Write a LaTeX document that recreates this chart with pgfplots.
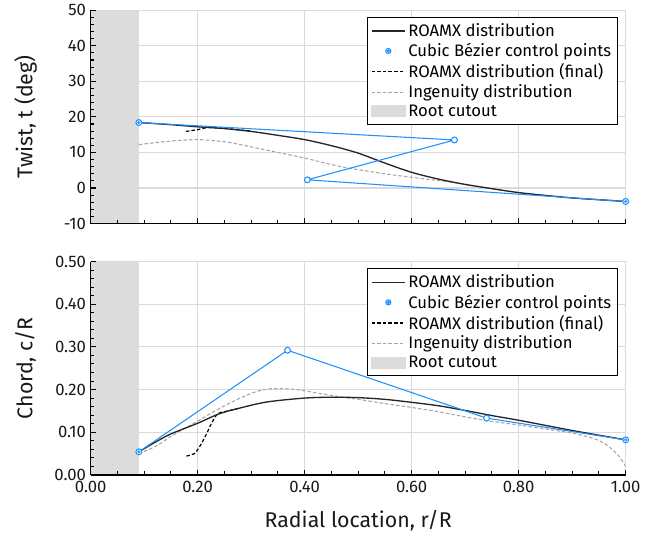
\documentclass[border=0pt]{standalone}
\usepackage{fontspec}
\setmainfont{Fira Sans}
\usepackage{pgfplots}
\pgfplotsset{compat=1.18}
\definecolor{cpblue}{RGB}{30,144,255}
\definecolor{cutgray}{RGB}{220,220,220}
\definecolor{gridgray}{RGB}{218,218,218}
\definecolor{ingray}{RGB}{165,165,165}
\pgfplotsset{
 myaxis/.style={
  scale only axis, width=401.25pt, height=160pt,
  xmin=0, xmax=1,
  set layers, clip mode=individual,
  axis x line*=bottom, axis y line*=left,
  axis line style={black, line width=1.1pt},
  xtick align=inside, ytick align=inside,
  major tick length=3.6pt, minor tick length=2.6pt,
  every major tick/.append style={black, line width=0.8pt},
  every minor tick/.append style={black, line width=0.7pt},
  grid=major, major grid style={gridgray, line width=0.9pt},
  xtick={0,0.2,0.4,0.6,0.8,1},
  minor xtick={0.05,0.1,0.15,0.25,0.3,0.35,0.45,0.5,0.55,0.65,0.7,0.75,0.85,0.9,0.95},
  tick label style={font=\fontsize{12.5}{14}\selectfont, black!90},
  xticklabel style={yshift=-1.5pt},
  every axis y label/.style={at={(axis description cs:-0.1215,0.5)}, rotate=90, anchor=center,
    font=\fontsize{16}{19}\selectfont, black!90},
  legend style={at={(1,1)}, anchor=north east, xshift=-6pt, yshift=-5pt,
    draw=black, line width=0.8pt, font=\fontsize{12.5}{14.5}\selectfont,
    legend cell align=left, row sep=-0.3pt, inner sep=2.5pt},
 }
}
\newcommand{\mylegend}{%
  \addlegendimage{legend image code/.code={\draw[black!85,line width=1pt] (0cm,0cm) -- (0.88cm,0cm);}}
  \addlegendentry{ROAMX distribution}
  \addlegendimage{legend image code/.code={\draw[cpblue,fill=white,line width=0.8pt] (0.44cm,0cm) circle (1.9pt); \fill[cpblue] (0.44cm,0cm) circle (0.8pt);}}
  \addlegendentry{Cubic Bézier control points}
  \addlegendimage{legend image code/.code={\draw[black,line width=0.8pt,dash pattern=on 2.6pt off 1.6pt] (0cm,0cm) -- (0.88cm,0cm);}}
  \addlegendentry{ROAMX distribution (final)}
  \addlegendimage{legend image code/.code={\draw[ingray,line width=0.8pt,dash pattern=on 2.6pt off 1.6pt] (0cm,0cm) -- (0.88cm,0cm);}}
  \addlegendentry{Ingenuity distribution}
  \addlegendimage{legend image code/.code={\fill[cutgray] (0cm,-4.1pt) rectangle (0.88cm,4.1pt);}}
  \addlegendentry{Root cutout}
}
\begin{document}
\begin{tikzpicture}
% ---------------- Twist ----------------
\begin{axis}[myaxis, at={(0,188.5pt)}, anchor=south west,
  ymin=-10, ymax=50, ytick={-10,0,10,20,30,40,50},
  minor ytick={-8,-6,-4,-2,2,4,6,8,12,14,16,18,22,24,26,28,32,34,36,38,42,44,46,48},
  yticklabels={-10,0,10,20,30,40,50}, xticklabels={,,,,,},
  ylabel={Twist, t (deg)}]
\mylegend
\addplot[draw=none, fill=cutgray, on layer=axis background, forget plot]
  coordinates {(0,-10) (0.09,-10) (0.09,50) (0,50) (0,-10)};
% axis ticks (inside)
\pgfplotsinvokeforeach{0.05,0.1,0.15,0.25,0.3,0.35,0.45,0.5,0.55,0.65,0.7,0.75,0.85,0.9,0.95}{
  \draw[black, line width=0.75pt] (axis cs:#1,-10) -- ++(0pt,2.8pt);}
\pgfplotsinvokeforeach{0.2,0.4,0.6,0.8}{
  \draw[black, line width=0.8pt] (axis cs:#1,-10) -- ++(0pt,3.8pt);}
\pgfplotsinvokeforeach{-8,-6,-4,-2,2,4,6,8,12,14,16,18,22,24,26,28,32,34,36,38,42,44,46,48}{
  \draw[black, line width=0.75pt] (axis cs:0,#1) -- ++(2.8pt,0pt);}
\pgfplotsinvokeforeach{0,10,20,30,40,50}{
  \draw[black, line width=0.8pt] (axis cs:0,#1) -- ++(3.8pt,0pt);}
% Ingenuity
\addplot[ingray, line width=0.8pt, dash pattern=on 2.6pt off 1.6pt, smooth, forget plot] coordinates {
(0.09,12.2) (0.15,13.2) (0.20,13.6) (0.25,13.0) (0.28,12.2) (0.34,10.3) (0.40,8.4)
(0.465,6.1) (0.54,4.2) (0.60,3.0) (0.68,1.5) (0.75,-0.2) (0.80,-1.3) (0.85,-2.1)
(0.90,-2.8) (0.95,-3.3) (1.00,-3.8)};
% ROAMX final
\addplot[black, line width=0.9pt, dash pattern=on 2.6pt off 1.6pt, forget plot] coordinates {
(0.178,15.9) (0.20,16.4) (0.217,17.0) (0.23,17.0) (0.25,16.8) (0.30,16.0)};
% ROAMX
\addplot[black!85, line width=1pt, smooth, forget plot] coordinates {
(0.09,18.4) (0.15,17.8) (0.20,17.2) (0.25,16.7) (0.30,15.9) (0.35,14.8) (0.40,13.6)
(0.45,11.9) (0.50,9.8) (0.55,7.0) (0.60,4.4) (0.65,2.5) (0.70,1.0) (0.75,-0.2)
(0.80,-1.3) (0.85,-2.1) (0.90,-2.8) (0.95,-3.3) (1.00,-3.8)};
% control points
\addplot[cpblue, line width=0.8pt, mark=*, mark size=2.2pt, mark options={fill=white, line width=0.8pt}, forget plot]
  coordinates {(0.09,18.4) (0.68,13.5) (0.405,2.3) (1.0,-3.8)};
\addplot[cpblue, only marks, mark=*, mark size=0.9pt, forget plot]
  coordinates {(0.09,18.4) (1.0,-3.8)};
\end{axis}
% ---------------- Chord ----------------
\begin{axis}[myaxis, at={(0,0)}, anchor=south west,
  ymin=0, ymax=0.5, ytick={0,0.1,0.2,0.3,0.4,0.5},
  minor ytick={0.02,0.04,0.06,0.08,0.12,0.14,0.16,0.18,0.22,0.24,0.26,0.28,0.32,0.34,0.36,0.38,0.42,0.44,0.46,0.48},
  yticklabels={0.00,0.10,0.20,0.30,0.40,0.50},
  xticklabels={0.00,0.20,0.40,0.60,0.80,1.00},
  ylabel={Chord, c/R},
  xlabel={Radial location, r/R},
  every axis x label/.style={at={(axis description cs:0.5,-0.248)}, anchor=base,
    font=\fontsize{16}{19}\selectfont, black!90}]
\mylegend
\addplot[draw=none, fill=cutgray, on layer=axis background, forget plot]
  coordinates {(0,0) (0.09,0) (0.09,0.5) (0,0.5) (0,0)};
% axis ticks (inside)
\pgfplotsinvokeforeach{0.05,0.1,0.15,0.25,0.3,0.35,0.45,0.5,0.55,0.65,0.7,0.75,0.85,0.9,0.95}{
  \draw[black, line width=0.75pt] (axis cs:#1,0) -- ++(0pt,2.8pt);}
\pgfplotsinvokeforeach{0.2,0.4,0.6,0.8}{
  \draw[black, line width=0.8pt] (axis cs:#1,0) -- ++(0pt,3.8pt);}
\pgfplotsinvokeforeach{0.02,0.04,0.06,0.08,0.12,0.14,0.16,0.18,0.22,0.24,0.26,0.28,0.32,0.34,0.36,0.38,0.42,0.44,0.46,0.48}{
  \draw[black, line width=0.75pt] (axis cs:0,#1) -- ++(2.8pt,0pt);}
\pgfplotsinvokeforeach{0.1,0.2,0.3,0.4,0.5}{
  \draw[black, line width=0.8pt] (axis cs:0,#1) -- ++(3.8pt,0pt);}
% Ingenuity
\addplot[ingray, line width=0.8pt, dash pattern=on 2.6pt off 1.6pt, smooth, forget plot] coordinates {
(0.09,0.050) (0.12,0.066) (0.154,0.093) (0.20,0.126) (0.25,0.162) (0.30,0.191) (0.33,0.201)
(0.36,0.202) (0.39,0.199) (0.45,0.186) (0.50,0.177) (0.55,0.167) (0.60,0.158) (0.65,0.148)
(0.70,0.136) (0.74,0.127) (0.80,0.117) (0.864,0.105) (0.90,0.098) (0.938,0.086) (0.96,0.074)
(0.976,0.058) (0.99,0.040) (1.00,0.019)};
% ROAMX final
\addplot[black, line width=0.9pt, dash pattern=on 2.6pt off 1.6pt, smooth, forget plot] coordinates {
(0.179,0.044) (0.194,0.050) (0.203,0.065) (0.210,0.080) (0.218,0.100) (0.226,0.121)
(0.237,0.143) (0.25,0.148) (0.28,0.157)};
% ROAMX
\addplot[black!85, line width=1pt, smooth, forget plot] coordinates {
(0.09,0.054) (0.12,0.076) (0.15,0.096) (0.20,0.121) (0.24,0.143) (0.28,0.157) (0.33,0.171)
(0.40,0.180) (0.45,0.182) (0.50,0.181) (0.55,0.177) (0.60,0.170) (0.65,0.162) (0.70,0.151)
(0.75,0.139) (0.80,0.128) (0.85,0.116) (0.90,0.104) (0.95,0.093) (1.00,0.082)};
% control points
\addplot[cpblue, line width=0.8pt, mark=*, mark size=2.2pt, mark options={fill=white, line width=0.8pt}, forget plot]
  coordinates {(0.09,0.054) (0.368,0.292) (0.74,0.133) (1.0,0.082)};
\addplot[cpblue, only marks, mark=*, mark size=0.9pt, forget plot]
  coordinates {(0.09,0.054) (1.0,0.082)};
\end{axis}
\path (-68pt,-45.75pt) rectangle (421pt,355.5pt);
\end{tikzpicture}
\end{document}
